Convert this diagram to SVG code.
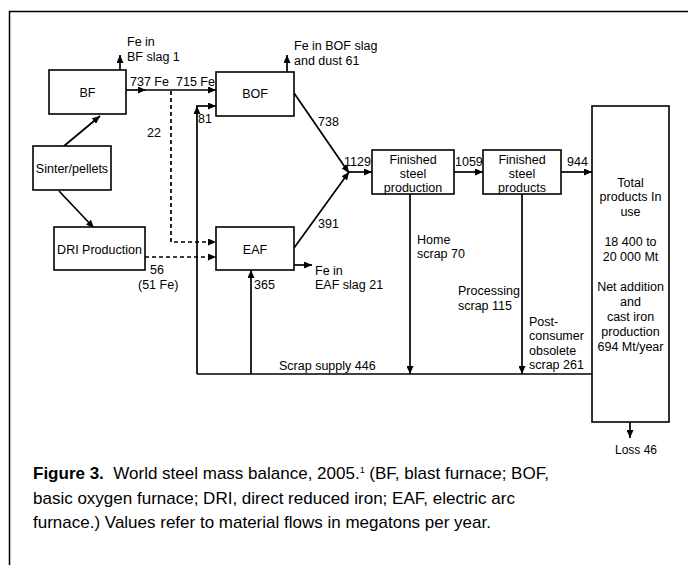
<svg xmlns="http://www.w3.org/2000/svg" width="688" height="565" viewBox="0 0 688 565">
<defs>
<marker id="ah" markerUnits="userSpaceOnUse" markerWidth="8" markerHeight="7" refX="8" refY="3.5" orient="auto">
<path d="M0,0 L8,3.5 L0,7 z" fill="#000"/>
</marker>
<style>
text{font-family:"Liberation Sans",Arial,Helvetica,sans-serif;font-size:12.5px;fill:#000}
.box{fill:#fff;stroke:#000;stroke-width:1.6}
.c{text-anchor:middle}
.ln{fill:none;stroke:#000;stroke-width:1.7}
.a{marker-end:url(#ah)}
.d{stroke-dasharray:4,3}
.cap{font-size:17px}
</style>
</defs>
<rect width="688" height="565" fill="#fff"/>
<path d="M9.5,566 V11.5 H690" fill="none" stroke="#000" stroke-width="1.5"/>

<g id="connectors">
<line class="ln a" x1="120" y1="70" x2="120" y2="55"/>
<line class="ln a" x1="126" y1="90" x2="146" y2="90"/>
<line class="ln a" x1="145" y1="90" x2="216" y2="90"/>
<polyline class="ln d a" points="171,91 171,242 216,242"/>
<line class="ln d a" x1="145" y1="257" x2="216" y2="257"/>
<line class="ln a" x1="197" y1="374" x2="197" y2="106"/>
<line class="ln a" x1="196" y1="106" x2="216" y2="106"/>
<line class="ln a" x1="251" y1="374" x2="251" y2="270"/>
<line class="ln" x1="197" y1="374" x2="592" y2="374"/>
<line class="ln a" x1="410" y1="194" x2="410" y2="374"/>
<line class="ln a" x1="522" y1="194" x2="522" y2="374"/>
<line class="ln a" x1="294" y1="93" x2="349" y2="173"/>
<line class="ln a" x1="294" y1="248" x2="349" y2="172"/>
<line class="ln a" x1="348" y1="172" x2="372" y2="172"/>
<line class="ln a" x1="454" y1="172" x2="483" y2="172"/>
<line class="ln a" x1="561" y1="172" x2="592" y2="172"/>
<line class="ln a" x1="287" y1="72" x2="287" y2="55"/>
<line class="ln a" x1="294" y1="265" x2="312" y2="265"/>
<line class="ln a" x1="630" y1="422" x2="630" y2="438"/>
<line class="ln a" x1="64" y1="146" x2="100" y2="116"/>
<line class="ln a" x1="59" y1="191" x2="94" y2="228"/>
</g>

<g id="bf"><rect class="box" x="49" y="70" width="77" height="44"/><text class="c" x="87.5" y="97">BF</text></g>
<g id="bof"><rect class="box" x="216" y="72" width="78" height="44"/><text class="c" x="255" y="98">BOF</text></g>
<g id="sinter"><rect class="box" x="33" y="146" width="78" height="44"/><text class="c" x="72" y="173">Sinter/pellets</text></g>
<g id="dri"><rect class="box" x="54" y="227" width="91" height="43"/><text class="c" x="99.5" y="254">DRI Production</text></g>
<g id="eaf"><rect class="box" x="216" y="227" width="78" height="43"/><text class="c" x="255" y="254">EAF</text></g>
<g id="fsp"><rect class="box" x="372" y="150" width="82" height="44"/>
<text class="c" x="413" y="164">Finished</text><text class="c" x="413" y="178">steel</text><text class="c" x="413" y="192">production</text></g>
<g id="fsprod"><rect class="box" x="483" y="150" width="78" height="44"/>
<text class="c" x="522" y="164">Finished</text><text class="c" x="522" y="178">steel</text><text class="c" x="522" y="192">products</text></g>
<g id="total"><rect class="box" x="592" y="106" width="77" height="316"/>
<text class="c" x="630.5" y="187">Total</text>
<text class="c" x="630.5" y="201">products In</text>
<text class="c" x="630.5" y="216">use</text>
<text class="c" x="630.5" y="246">18 400 to</text>
<text class="c" x="630.5" y="261">20 000 Mt</text>
<text class="c" x="630.5" y="291">Net addition</text>
<text class="c" x="630.5" y="306">and</text>
<text class="c" x="630.5" y="321">cast iron</text>
<text class="c" x="630.5" y="336">production</text>
<text class="c" x="630.5" y="351">694 Mt/year</text>
</g>

<g id="labels">
<text x="127" y="46">Fe in</text>
<text x="127" y="61">BF slag 1</text>
<text x="130" y="86">737 Fe</text>
<text x="176" y="86">715 Fe</text>
<text x="147" y="137">22</text>
<text x="198" y="123">81</text>
<text x="294" y="50">Fe in BOF slag</text>
<text x="294" y="65">and dust 61</text>
<text x="318" y="126">738</text>
<text x="318" y="228">391</text>
<text x="344" y="166">1129</text>
<text x="455" y="166">1059</text>
<text x="567" y="166">944</text>
<text x="150" y="274">56</text>
<text x="138" y="289">(51 Fe)</text>
<text x="254" y="289">365</text>
<text x="315" y="275">Fe in</text>
<text x="315" y="289">EAF slag 21</text>
<text x="417" y="244">Home</text>
<text x="417" y="258">scrap 70</text>
<text x="458" y="295">Processing</text>
<text x="458" y="310">scrap 115</text>
<text x="529" y="326">Post-</text>
<text x="529" y="340">consumer</text>
<text x="529" y="355">obsolete</text>
<text x="529" y="369">scrap 261</text>
<text x="279" y="370">Scrap supply 446</text>
<text class="c" x="636" y="454" style="font-size:12px">Loss 46</text>
</g>

<g id="caption">
<text class="cap" x="33" y="479"><tspan font-weight="bold">Figure 3.</tspan>&#160; World steel mass balance, 2005.<tspan font-size="9px" dy="-6">1</tspan><tspan dy="6"> (BF, blast furnace; BOF,</tspan></text>
<text class="cap" x="33" y="504">basic oxygen furnace; DRI, direct reduced iron; EAF, electric arc</text>
<text class="cap" x="33" y="528">furnace.) Values refer to material flows in megatons per year.</text>
</g>
</svg>
